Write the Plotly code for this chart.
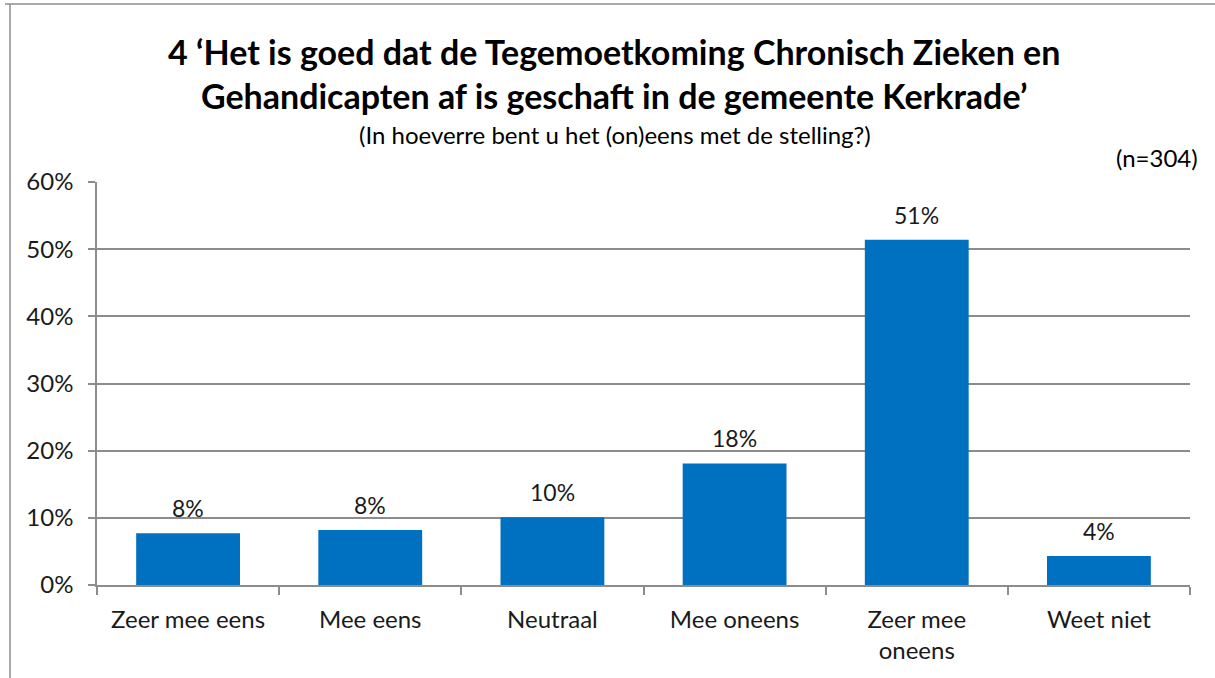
import plotly.graph_objects as go

categories = ["Zeer mee eens", "Mee eens", "Neutraal", "Mee oneens", "Zeer mee<br>oneens", "Weet niet"]
values = [7.7, 8.2, 10.1, 18.1, 51.4, 4.3]
labels = ["8%", "8%", "10%", "18%", "51%", "4%"]
y_ticks = [0, 10, 20, 30, 40, 50, 60]
y_tick_text = ["0%", "10%", "20%", "30%", "40%", "50%", "60%"]

FONT = "Lato, Carlito, Calibri, sans-serif"
GRID = "#8c8c8c"
TXT = "#1a1a1a"

# plot area in pixels
L, R, T, B = 97, 1190, 182, 585
W, H = R - L, B - T

def px(x):
    return (x - L) / W

def py(y):
    return (B - y) / H

fig = go.Figure(go.Bar(
    x=categories, y=values,
    marker=dict(color="#0070C0", line=dict(width=0)),
    hoverinfo="x+y",
))

annotations = [
    dict(x=c, y=v, text=t, xref="x", yref="y", showarrow=False,
         yanchor="bottom", yshift=9,
         font=dict(size=23, family=FONT, color=TXT))
    for c, v, t in zip(categories, values, labels)
]
annotations += [
    dict(text="<b>4 ‘Het is goed dat de Tegemoetkoming Chronisch Zieken en<br>Gehandicapten af is geschaft in de gemeente Kerkrade’</b>",
         xref="paper", yref="paper", x=px(614), y=py(73),
         xanchor="center", yanchor="middle", showarrow=False,
         font=dict(size=34, family=FONT, color="#000000")),
    dict(text="(In hoeverre bent u het (on)eens met de stelling?)",
         xref="paper", yref="paper", x=px(615), y=py(134),
         xanchor="center", yanchor="middle", showarrow=False,
         font=dict(size=24, family=FONT, color="#000000")),
    dict(text="(n=304)",
         xref="paper", yref="paper", x=px(1200), y=py(157),
         xanchor="right", yanchor="middle", showarrow=False,
         font=dict(size=24, family=FONT, color="#000000")),
]

fig.update_layout(
    width=1215, height=678,
    margin=dict(l=L, r=1215 - R, t=T, b=678 - B),
    paper_bgcolor="white", plot_bgcolor="white",
    bargap=0.43,
    showlegend=False,
    font=dict(family=FONT, color=TXT),
    xaxis=dict(
        showgrid=False, showline=True, linecolor=GRID, linewidth=1.5,
        ticks="outside", tickson="boundaries", ticklen=8, tickcolor=GRID, tickwidth=1.5,
        tickfont=dict(size=24, family=FONT, color=TXT),
        ticklabelstandoff=12,
    ),
    yaxis=dict(
        range=[0, 60], tickvals=y_ticks, ticktext=y_tick_text,
        showgrid=True, gridcolor=GRID, gridwidth=1.5,
        showline=True, linecolor=GRID, linewidth=1.5,
        ticks="outside", ticklen=7, tickcolor=GRID, tickwidth=1.5,
        tickfont=dict(size=24, family=FONT, color=TXT),
        ticklabelstandoff=10,
        zeroline=False,
    ),
    annotations=annotations,
    shapes=[
        dict(type="line", xref="paper", yref="paper",
             x0=px(5), x1=px(1215), y0=py(4), y1=py(4),
             line=dict(color=GRID, width=1.5)),
        dict(type="line", xref="paper", yref="paper",
             x0=px(10), x1=px(10), y0=py(4), y1=py(678),
             line=dict(color=GRID, width=1.5)),
    ],
)

fig.write_html("out.html")
